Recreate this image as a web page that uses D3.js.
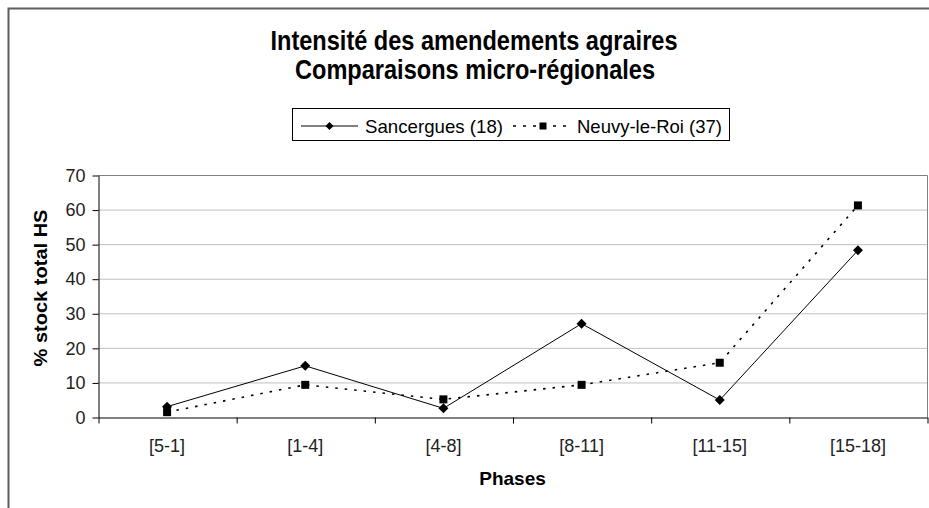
<!DOCTYPE html>
<html>
<head>
<meta charset="utf-8">
<script src="https://cdn.jsdelivr.net/npm/d3@7"></script>
<style>
  html, body { margin: 0; padding: 0; background: #fff; }
  svg { display: block; font-family: Arial, "Liberation Sans", sans-serif; }
</style>
</head>
<body>
<svg id="chart" width="929" height="508"></svg>
<script>
// Phases (categories on the x axis)
const phases = ["[5-1]", "[1-4]", "[4-8]", "[8-11]", "[11-15]", "[15-18]"];
// % of total HS stock per phase
const sancergues = [3.0, 14.8, 2.5, 27.0, 4.9, 48.2];
const neuvy = [1.4, 9.3, 5.1, 9.3, 15.7, 61.2];
// Y axis ticks
const yTicks = [0, 10, 20, 30, 40, 50, 60, 70];

const seriesNames = ["Sancergues (18)", "Neuvy-le-Roi (37)"];

const svg = d3.select("#chart");
const W = 929, H = 508;
const plot = { left: 98, right: 927, top: 175, bottom: 417 };

// Chart area frame (only left and top edges fall inside the view)
svg.append("rect")
  .attr("x", 8.5).attr("y", 8.5)
  .attr("width", W + 20).attr("height", H + 20)
  .attr("fill", "#fff")
  .attr("stroke", "#5f5f5f").attr("stroke-width", 2);

// Title (slightly tall, narrow lettering)
const title = svg.append("g").attr("font-weight", "bold").attr("fill", "#000").attr("text-anchor", "middle");
title.append("text").attr("transform", "translate(474,50) scale(1,1.12)").attr("font-size", 24)
  .attr("textLength", 407).attr("lengthAdjust", "spacingAndGlyphs")
  .text("Intensité des amendements agraires");
title.append("text").attr("transform", "translate(475,79) scale(1,1.12)").attr("font-size", 24)
  .attr("textLength", 360).attr("lengthAdjust", "spacingAndGlyphs")
  .text("Comparaisons micro-régionales");

// Scales
const x = d3.scaleBand().domain(phases).range([plot.left, plot.right]).padding(0);
const xEdge = d3.scaleLinear().domain([0, phases.length]).range([plot.left, plot.right]);
const y = d3.scaleLinear().domain([0, 70]).range([plot.bottom, plot.top]);

// Gridlines
svg.append("g").selectAll("line")
  .data(yTicks.filter(d => d > 0 && d < 70))
  .join("line")
  .attr("x1", plot.left).attr("x2", plot.right)
  .attr("y1", d => y(d) + 0.5).attr("y2", d => y(d) + 0.5)
  .attr("stroke", "#c0c0c0").attr("stroke-width", 1);

// Plot area border (top and right)
svg.append("path")
  .attr("d", `M${plot.left},${y(70) + 0.5}H${plot.right + 0.5}V${plot.bottom}`)
  .attr("fill", "none").attr("stroke", "#808080").attr("stroke-width", 1);

// Y axis
const yAxis = svg.append("g")
  .attr("transform", `translate(${plot.left + 0.5},0.5)`)
  .call(d3.axisLeft(y).tickValues(yTicks).tickSize(6).tickPadding(7).tickSizeOuter(0));
yAxis.select(".domain").attr("stroke", "#000");
yAxis.selectAll(".tick line").attr("stroke", "#000");
yAxis.selectAll(".tick text")
  .attr("font-size", 18).attr("fill", "#222")
  .attr("font-family", "Arial, 'Liberation Sans', sans-serif");

// X axis: ticks on category boundaries
const xAxis = svg.append("g")
  .attr("transform", `translate(0.5,${plot.bottom + 0.5})`)
  .call(d3.axisBottom(xEdge).tickValues(d3.range(0, phases.length + 1))
    .tickSize(6).tickFormat("").tickSizeOuter(0));
xAxis.select(".domain").attr("stroke", "#000");
xAxis.selectAll(".tick line").attr("stroke", "#000");

// Category labels centred under each band
svg.append("g").selectAll("text")
  .data(phases)
  .join("text")
  .attr("x", d => x(d) + x.bandwidth() / 2)
  .attr("y", 452)
  .attr("text-anchor", "middle")
  .attr("font-size", 18).attr("fill", "#222")
  .text(d => d);

// Axis titles
svg.append("text")
  .attr("x", plot.left + (plot.right - plot.left) / 2).attr("y", 485)
  .attr("text-anchor", "middle").attr("font-weight", "bold").attr("font-size", 19)
  .text("Phases");
svg.append("text")
  .attr("transform", `translate(47,288) rotate(-90)`)
  .attr("text-anchor", "middle").attr("font-weight", "bold").attr("font-size", 19)
  .attr("textLength", 157).attr("lengthAdjust", "spacingAndGlyphs")
  .text("% stock total HS");

// Series lines
const line = d3.line()
  .x((d, i) => x(phases[i]) + x.bandwidth() / 2)
  .y(d => y(d));

svg.append("path").datum(sancergues)
  .attr("d", line).attr("fill", "none")
  .attr("stroke", "#000").attr("stroke-width", 1);
svg.append("path").datum(neuvy)
  .attr("d", line).attr("fill", "none")
  .attr("stroke", "#000").attr("stroke-width", 1.6)
  .attr("stroke-dasharray", "2.5,7");

// Markers
const diamond = s => `M0,${-s}L${s},0L0,${s}L${-s},0Z`;
svg.append("g").selectAll("path")
  .data(sancergues)
  .join("path")
  .attr("transform", (d, i) => `translate(${x(phases[i]) + x.bandwidth() / 2},${y(d)})`)
  .attr("d", diamond(5)).attr("fill", "#000");
svg.append("g").selectAll("rect")
  .data(neuvy)
  .join("rect")
  .attr("x", (d, i) => x(phases[i]) + x.bandwidth() / 2 - 4)
  .attr("y", d => y(d) - 4)
  .attr("width", 8).attr("height", 8).attr("fill", "#000");

// Legend
const lg = svg.append("g");
lg.append("rect")
  .attr("x", 292.5).attr("y", 108.5).attr("width", 437).attr("height", 32)
  .attr("fill", "#fff").attr("stroke", "#000").attr("stroke-width", 1);
const ly = 126;
// Sancergues entry
lg.append("line").attr("x1", 301).attr("x2", 358).attr("y1", ly).attr("y2", ly)
  .attr("stroke", "#000").attr("stroke-width", 1);
lg.append("path").attr("transform", `translate(329.5,${ly})`).attr("d", diamond(4)).attr("fill", "#000");
lg.append("text").attr("x", 365).attr("y", ly + 6.5).attr("font-size", 18.5)
  .attr("textLength", 138).attr("lengthAdjust", "spacingAndGlyphs")
  .text(seriesNames[0]);
// Neuvy entry
lg.append("line").attr("x1", 513).attr("x2", 573).attr("y1", ly).attr("y2", ly)
  .attr("stroke", "#000").attr("stroke-width", 1.4).attr("stroke-dasharray", "3,7");
lg.append("rect").attr("x", 539.5).attr("y", ly - 3.5).attr("width", 7).attr("height", 7).attr("fill", "#000");
lg.append("text").attr("x", 577).attr("y", ly + 6.5).attr("font-size", 18.5)
  .attr("textLength", 145).attr("lengthAdjust", "spacingAndGlyphs")
  .text(seriesNames[1]);
</script>
</body>
</html>
